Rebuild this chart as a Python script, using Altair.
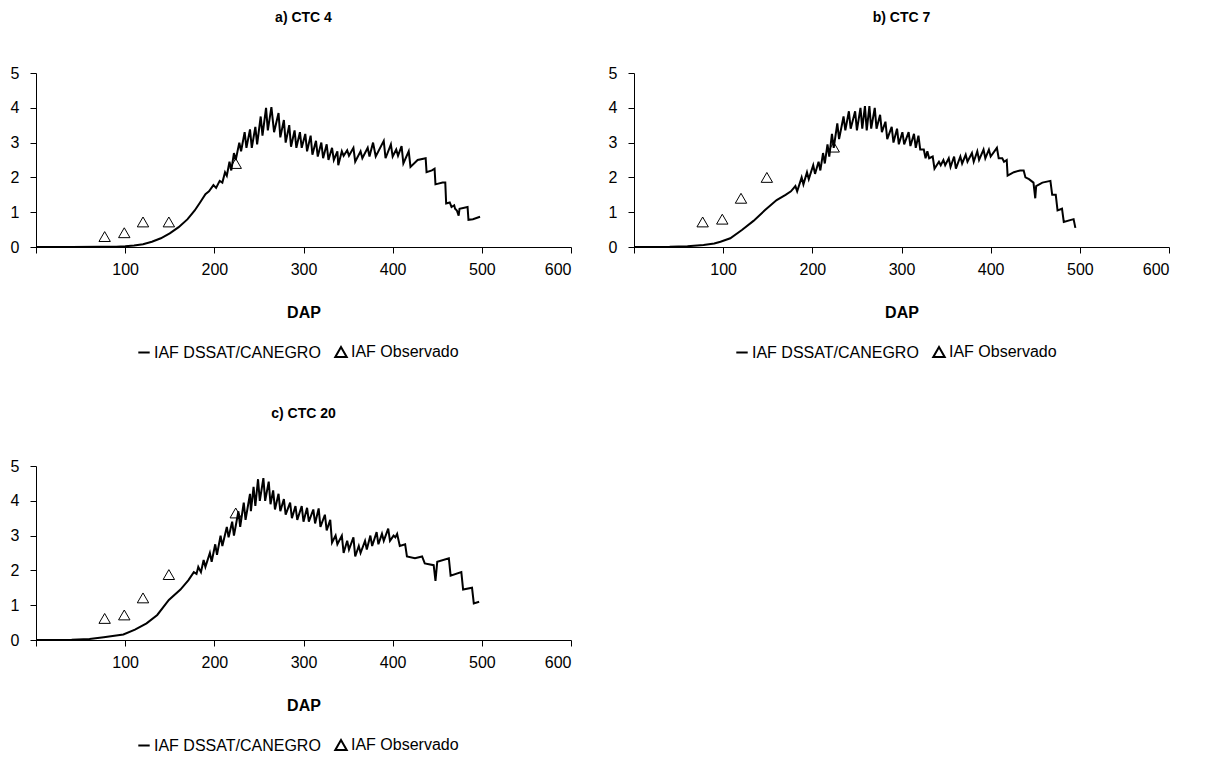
import altair as alt
import pandas as pd

FONT = "Liberation Sans"
SERIES = ["IAF DSSAT/CANEGRO", "IAF Observado"]
X_TICKS = [0, 100, 200, 300, 400, 500, 600]
Y_TICKS = [0, 1, 2, 3, 4, 5]

# ---- a) CTC 4 : simulated IAF ----
dap_a = [0, 40, 70, 90, 100, 110, 120, 130, 140, 150, 160, 170, 178, 184, 190,
         194, 199, 202, 206, 209, 212, 214, 217, 219, 222, 224, 228, 230, 234, 236,
         240, 242, 246, 248, 252, 254, 258, 260, 264, 267, 272, 274, 278, 280, 284,
         286, 290, 292, 296, 298, 302, 304, 308, 310, 314, 316, 320, 322, 326, 328,
         332, 334, 338, 339, 343, 345, 349, 351, 356, 358, 364, 366, 372, 374, 378,
         381, 390, 392, 398, 400, 404, 406, 410, 412, 418, 420, 428, 437, 438, 444,
         447, 448, 456, 459, 460, 464, 466, 469, 470, 472, 474, 475, 484, 485, 490, 498]
iaf_a = [0, 0, 0.005, 0.01, 0.02, 0.04, 0.08, 0.15, 0.25, 0.39, 0.57, 0.8, 1.05, 1.28, 1.52,
         1.6, 1.78, 1.7, 1.9, 1.85, 2.15, 2.05, 2.45, 2.2, 2.7, 2.5, 3.0, 2.75, 3.3, 2.85,
         3.38, 2.85, 3.45, 2.95, 3.75, 3.2, 4.0, 3.35, 4.02, 3.3, 3.85, 3.15, 3.65, 3.0, 3.5,
         2.88, 3.35, 2.85, 3.3, 2.85, 3.25, 2.75, 3.2, 2.65, 3.05, 2.6, 3.0, 2.55, 2.95, 2.5,
         2.85, 2.5, 2.75, 2.35, 2.75, 2.62, 2.78, 2.62, 2.85, 2.45, 2.75, 2.55, 2.85, 2.6, 3.0,
         2.6, 3.05, 2.55, 2.95, 2.6, 2.8, 2.62, 2.9, 2.4, 2.75, 2.3, 2.5, 2.55, 2.15, 2.2,
         2.25, 1.8, 1.85, 1.85, 1.25, 1.28, 1.15, 1.2, 1.1, 1.05, 0.9, 1.1, 1.15, 0.78, 0.8, 0.87]

# ---- b) CTC 7 : simulated IAF ----
dap_b = [0, 40, 60, 78, 90, 97, 108, 121, 134, 147, 160, 170, 176, 181, 183,
         188, 190, 194, 196, 201, 203, 207, 209, 212, 214, 217, 219, 222, 224, 228,
         230, 235, 237, 241, 243, 248, 250, 254, 256, 259, 261, 264, 266, 270, 272,
         276, 278, 282, 284, 289, 291, 295, 297, 301, 303, 308, 310, 314, 316, 319,
         321, 325, 327, 329, 331, 335, 337, 342, 344, 347, 349, 353, 355, 359, 361,
         366, 368, 372, 374, 379, 381, 385, 387, 392, 394, 398, 400, 407, 409, 413,
         415, 418, 419, 426, 433, 437, 439, 443, 448, 450, 451, 458, 467, 469, 473,
         475, 480, 482, 493, 495]
iaf_b = [0, 0.005, 0.02, 0.06, 0.1, 0.15, 0.25, 0.49, 0.75, 1.06, 1.35, 1.5, 1.6, 1.75, 1.6,
         2.0, 1.8, 2.15, 1.95, 2.35, 2.1, 2.45, 2.2, 2.7, 2.4, 2.95, 2.6, 3.25, 2.85, 3.55,
         3.1, 3.75, 3.35, 3.9, 3.4, 3.9, 3.35, 4.0, 3.4, 4.05, 3.35, 4.05, 3.4, 4.0, 3.4,
         3.8, 3.3, 3.6, 3.1, 3.45, 3.0, 3.4, 2.95, 3.3, 2.95, 3.3, 2.9, 3.25, 2.85, 3.2,
         2.8, 2.8, 2.55, 2.75, 2.55, 2.6, 2.25, 2.45, 2.35, 2.5, 2.35, 2.55, 2.3, 2.6, 2.25,
         2.6, 2.4, 2.65, 2.45, 2.7, 2.45, 2.75, 2.5, 2.8, 2.55, 2.8, 2.6, 2.85, 2.55, 2.55,
         2.45, 2.5, 2.05, 2.15, 2.2, 2.2, 2.0, 1.95, 1.85, 1.4, 1.75, 1.85, 1.9, 1.5, 1.5,
         1.05, 1.1, 0.72, 0.8, 0.55]

# ---- c) CTC 20 : simulated IAF ----
dap_c = [0, 40, 60, 76, 90, 98, 111, 124, 136, 149, 162, 171, 177, 180, 182,
         185, 188, 190, 195, 197, 201, 203, 207, 209, 214, 216, 220, 222, 227, 229,
         233, 235, 240, 241, 244, 246, 249, 251, 255, 257, 261, 263, 266, 268, 272,
         274, 278, 280, 285, 287, 291, 293, 298, 300, 304, 306, 311, 313, 317, 319,
         324, 326, 330, 332, 336, 338, 343, 345, 349, 351, 356, 358, 362, 364, 369,
         371, 375, 377, 382, 384, 388, 390, 395, 397, 401, 403, 405, 408, 414, 416,
         425, 433, 436, 446, 448, 450, 463, 465, 477, 479, 489, 491, 497]
iaf_c = [0, 0.005, 0.03, 0.08, 0.13, 0.16, 0.3, 0.48, 0.72, 1.15, 1.45, 1.72, 1.95, 1.9, 2.1,
         1.95, 2.3, 2.1, 2.5, 2.25, 2.75, 2.45, 3.0, 2.7, 3.25, 2.95, 3.4, 3.0, 3.7, 3.25,
         3.95, 3.45, 4.2, 3.7, 4.4, 3.85, 4.62, 4.0, 4.65, 4.0, 4.55, 3.9, 4.3, 3.75, 4.2,
         3.7, 4.05, 3.6, 3.95, 3.5, 3.85, 3.45, 3.85, 3.4, 3.8, 3.4, 3.75, 3.35, 3.78, 3.25,
         3.6, 3.15, 3.45, 2.8, 3.0, 2.75, 3.0, 2.5, 2.85, 2.6, 2.95, 2.4, 2.7, 2.5, 2.85,
         2.6, 3.0, 2.7, 3.1, 2.75, 3.05, 2.85, 3.2, 2.85, 3.0, 2.95, 3.05, 2.7, 2.75, 2.4,
         2.35, 2.4, 2.2, 2.15, 1.7, 2.25, 2.35, 1.85, 1.95, 1.45, 1.5, 1.05, 1.1]

# ---- observed IAF ----
obs_dap = [77, 99, 120, 149, 224]
obs_a = [0.3, 0.41, 0.72, 0.72, 2.4]
obs_b = [0.72, 0.8, 1.4, 2.0, 2.87]
obs_c = [0.62, 0.72, 1.21, 1.88, 3.65]

W, H = 535, 174


def panel(title, dap, iaf, obs, title_offset):
    sim = pd.DataFrame({"DAP": dap, "IAF": iaf, "i": list(range(len(dap)))})
    ob = pd.DataFrame({"DAP": obs_dap, "IAF": obs, "serie": [SERIES[1]] * len(obs)})
    x = alt.X("DAP:Q",
              scale=alt.Scale(domain=[0, 600], nice=False, zero=True),
              axis=alt.Axis(values=X_TICKS, title="DAP",
                            labelExpr="datum.value == 0 ? '' : datum.label",
                            tickSize=6, labelPadding=8, titlePadding=27))
    y = alt.Y("IAF:Q",
              scale=alt.Scale(domain=[0, 5], nice=False),
              axis=alt.Axis(values=Y_TICKS, title=None, tickSize=6, labelPadding=11))
    line = alt.Chart(sim).mark_line(color="black", strokeWidth=2).encode(
        x=x, y=y, order="i:Q")
    pts = alt.Chart(ob).mark_point(filled=False, color="black", size=130,
                                   strokeWidth=1, opacity=1).encode(
        x=x, y=y,
        shape=alt.Shape("serie:N",
                        scale=alt.Scale(domain=SERIES, range=["M-1,0H1", "triangle-up"]),
                        legend=alt.Legend(title=None, orient="none", direction="horizontal",
                                          legendX=100, legendY=271,
                                          labelFont=FONT, labelFontSize=16, labelLimit=400,
                                          labelColor="black", symbolStrokeColor="black",
                                          symbolStrokeWidth=2, symbolSize=130,
                                          labelOffset=2, columnPadding=10, padding=0)))
    return alt.layer(line, pts).properties(
        width=W, height=H,
        title=alt.TitleParams(title, font=FONT, fontSize=14, fontWeight="bold",
                              color="black", anchor="middle", offset=title_offset))


pa = panel("a) CTC 4", dap_a, iaf_a, obs_a, 40)
pb = panel("b) CTC 7", dap_b, iaf_b, obs_b, 40)
pc = panel("c) CTC 20", dap_c, iaf_c, obs_c, 37)

top = alt.hconcat(pa, pb, spacing=36).resolve_scale(shape="independent").resolve_legend(
    shape="independent")
chart = alt.vconcat(top, pc, spacing=46).resolve_scale(shape="independent").resolve_legend(
    shape="independent").configure(
    padding={"left": 2, "top": 3, "right": 0, "bottom": 0}
).configure_view(stroke=None).configure_axis(
    grid=False, domainColor="black", tickColor="black", labelColor="black",
    labelFont=FONT, labelFontSize=16, titleFont=FONT, titleFontSize=16,
    titleFontWeight="bold", titleColor="black", domainWidth=1, tickWidth=1
).configure_concat(spacing=36)

chart.save("out.html", embed_options={"renderer": "svg", "actions": False})
